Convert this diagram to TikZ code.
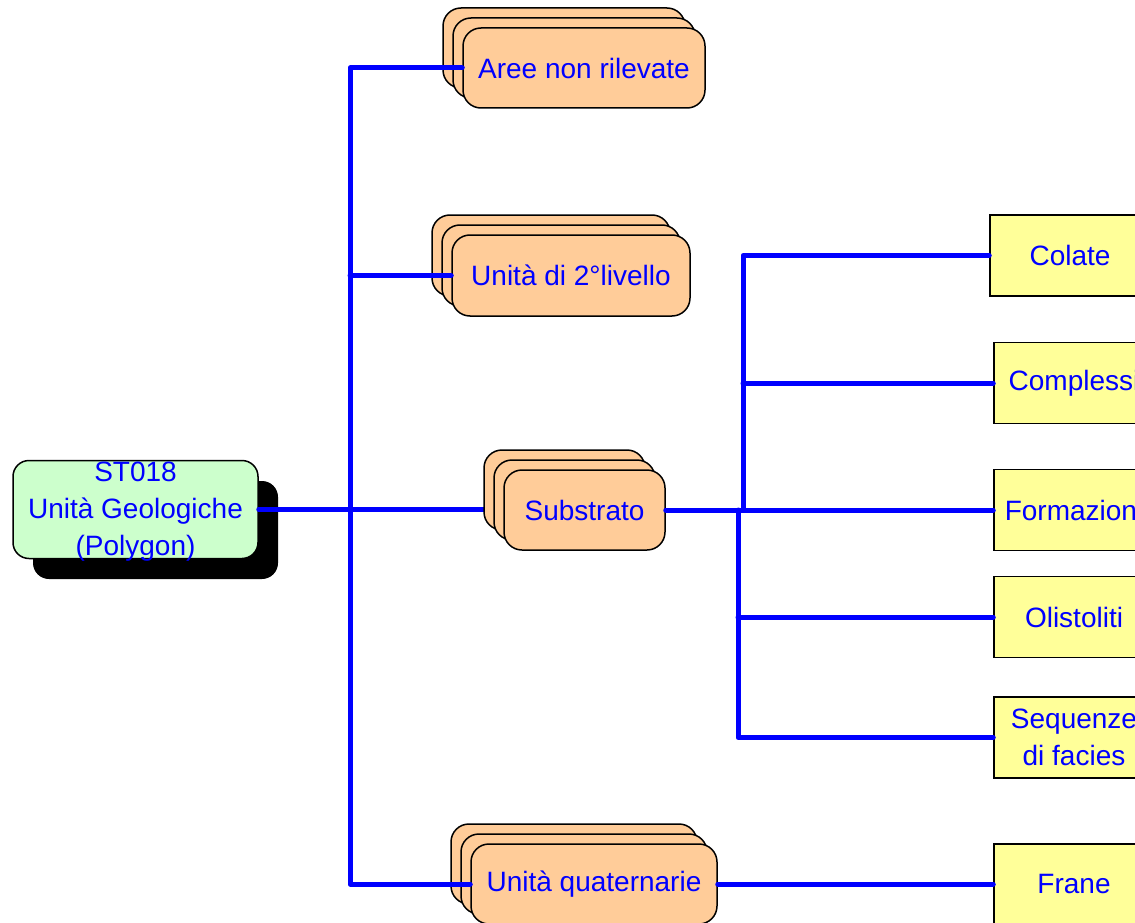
\documentclass[tikz,border=0pt]{standalone}
\usepackage{fontspec}
\setmainfont{Liberation Sans}
\definecolor{lineblue}{RGB}{0,0,255}
\definecolor{txtblue}{RGB}{0,0,255}
\definecolor{orangefill}{RGB}{255,204,153}
\definecolor{greenfill}{RGB}{204,255,204}
\definecolor{yellowfill}{RGB}{255,255,153}
\begin{document}
\begin{tikzpicture}[x=1pt,y=-1pt,
  every node/.style={font=\fontsize{28}{37}\selectfont, text=txtblue, align=center, inner sep=0pt},
  stackbox/.style={draw=black, line width=1.5pt, fill=orangefill, rounded corners=18pt},
  mainbox/.style={draw=black, line width=1.5pt, fill=greenfill, rounded corners=16pt, minimum width=245pt, text height=95pt, text depth=3pt},
  shadowbox/.style={fill=black, rounded corners=16pt, minimum width=245pt, minimum height=98pt},
  leafbox/.style={draw=black, line width=1.5pt, fill=yellowfill, minimum width=160pt, minimum height=81pt},
  conn/.style={draw=lineblue, line width=5pt, line cap=round, line join=round}]
\useasboundingbox (0,0) rectangle (1135,923);

% main node
\node[shadowbox] (mainshadow) at (155.5,530) {};
\node[mainbox] (main) at (135.5,509.5) {ST018\\Unità Geologiche\\(Polygon)};

% Substrato stack (line behind)
\coordinate (subleft) at (484,0);
\draw[conn] (main.east) -- (main.east -| subleft);
\node[stackbox, minimum width=161pt, minimum height=80pt] (sub3) at (564.5,490) {};
\node[stackbox, minimum width=161pt, minimum height=80pt] (sub2) at (574.5,500) {};
\node[stackbox, minimum width=161pt, minimum height=80pt] (sub) at (584.5,510) {Substrato};

% Aree non rilevate stack
\node[stackbox, minimum width=242pt, minimum height=80pt] (aree3) at (564,48) {};
\node[stackbox, minimum width=242pt, minimum height=80pt] (aree2) at (574,58) {};
\node[stackbox, minimum width=242pt, minimum height=80pt] (aree) at (584,68) {Aree non rilevate};

% Unita di 2 livello stack
\node[stackbox, minimum width=238pt, minimum height=81pt] (liv3) at (551,255.5) {};
\node[stackbox, minimum width=238pt, minimum height=81pt] (liv2) at (561,265.5) {};
\node[stackbox, minimum width=238pt, minimum height=81pt] (liv) at (571,275.5) {Unità di 2°livello};

% Unita quaternarie stack
\node[stackbox, minimum width=246pt, minimum height=80pt] (quat3) at (574,864) {};
\node[stackbox, minimum width=246pt, minimum height=80pt] (quat2) at (584,874) {};
\node[stackbox, minimum width=246pt, minimum height=80pt] (quat) at (594,884) {Unità quaternarie};

% leaf boxes
\node[leafbox] (colate) at (1070,255.5) {Colate};
\node[leafbox] (compl) at (1074,383) {Complessi};
\node[leafbox] (form) at (1074,510) {Formazioni};
\node[leafbox] (olis) at (1074,617) {Olistoliti};
\node[leafbox] (seq) at (1074,737.5) {Sequenze\\di facies};
\node[leafbox, minimum height=80pt] (frane) at (1074,884) {Frane};

% left trunk
\coordinate (trunk) at (350,0);
\draw[conn] (aree.west) -- (aree.west -| trunk) -- (quat.west -| trunk) -- (quat.west);
\draw[conn] (liv.west) -- (liv.west -| trunk);

% right trunks
\coordinate (ja) at (743,0);
\coordinate (jb) at (738,0);
\draw[conn] (sub.east) -- (form.west);
\draw[conn] (colate.west) -- (colate.west -| ja) -- (sub.east -| ja);
\draw[conn] (compl.west) -- (compl.west -| ja);
\draw[conn] (seq.west) -- (seq.west -| jb) -- (sub.east -| jb);
\draw[conn] (olis.west) -- (olis.west -| jb);
\draw[conn] (quat.east) -- (frane.west);
\end{tikzpicture}
\end{document}
